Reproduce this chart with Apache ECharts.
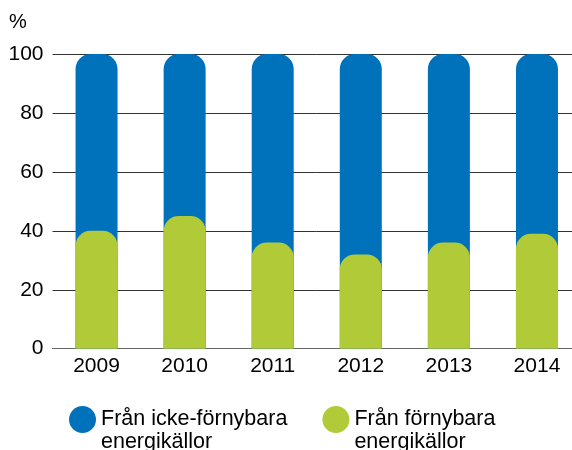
<!DOCTYPE html>
<html>
<head>
<meta charset="utf-8">
<script src="https://cdn.jsdelivr.net/npm/echarts@6/dist/echarts.min.js"></script>
<style>
  html, body { margin: 0; padding: 0; background: #fff; overflow: hidden; }
  /* the plot area runs past the right edge of the window, as in the original */
  #chart { width: 581px; height: 450px; }
</style>
</head>
<body>
<div id="chart"></div>
<script>
// årtal och andelar (%)
const years = ['2009', '2010', '2011', '2012', '2013', '2014'];
const nonRenewable = [100, 100, 100, 100, 100, 100];
const renewable = [40, 45, 36, 32, 36, 39];
const seriesNames = ['Från icke-förnybara\nenergikällor', 'Från förnybara\nenergikällor'];

const chart = echarts.init(document.getElementById('chart'));
const font = 'Liberation Sans, Arial, sans-serif';

const option = {
    animation: false,
    textStyle: { fontFamily: font },
    title: {
        text: '%',
        left: 9,
        top: 12,
        padding: 0,
        textStyle: { fontFamily: font, fontSize: 20, fontWeight: 'normal', color: '#000' }
    },
    grid: {
        left: 52.5,
        right: 0,
        top: 54,
        bottom: 101.3
    },
    legend: {
        left: 69,
        top: 385,
        padding: 0,
        itemWidth: 27,
        itemHeight: 27,
        itemGap: 35,
        icon: 'circle',
        // leading empty line keeps the first text line level with the icon
        formatter: name => '\n' + name,
        textStyle: {
            fontFamily: font,
            fontSize: 21.5,
            color: '#000',
            lineHeight: 23
        },
        data: seriesNames
    },
    xAxis: {
        type: 'category',
        data: years,
        axisTick: { show: false },
        axisLine: { lineStyle: { color: '#666', width: 1 } },
        axisLabel: { color: '#000', fontSize: 21, margin: 7 }
    },
    yAxis: {
        type: 'value',
        min: 0,
        max: 100,
        interval: 20,
        axisLabel: { color: '#000', fontSize: 21, margin: 9 },
        splitLine: { lineStyle: { color: '#333', width: 1 } },
        axisLine: { show: false },
        axisTick: { show: false }
    },
    series: [
        {
            name: seriesNames[0],
            type: 'bar',
            data: nonRenewable,
            barWidth: 42,
            barGap: '-100%',
            itemStyle: { color: '#0072bc', borderRadius: [15, 15, 0, 0] }
        },
        {
            name: seriesNames[1],
            type: 'bar',
            data: renewable,
            barWidth: 42,
            itemStyle: { color: '#b0cb37', borderRadius: [15, 15, 0, 0] }
        }
    ]
};
option && chart.setOption(option);
</script>
</body>
</html>
